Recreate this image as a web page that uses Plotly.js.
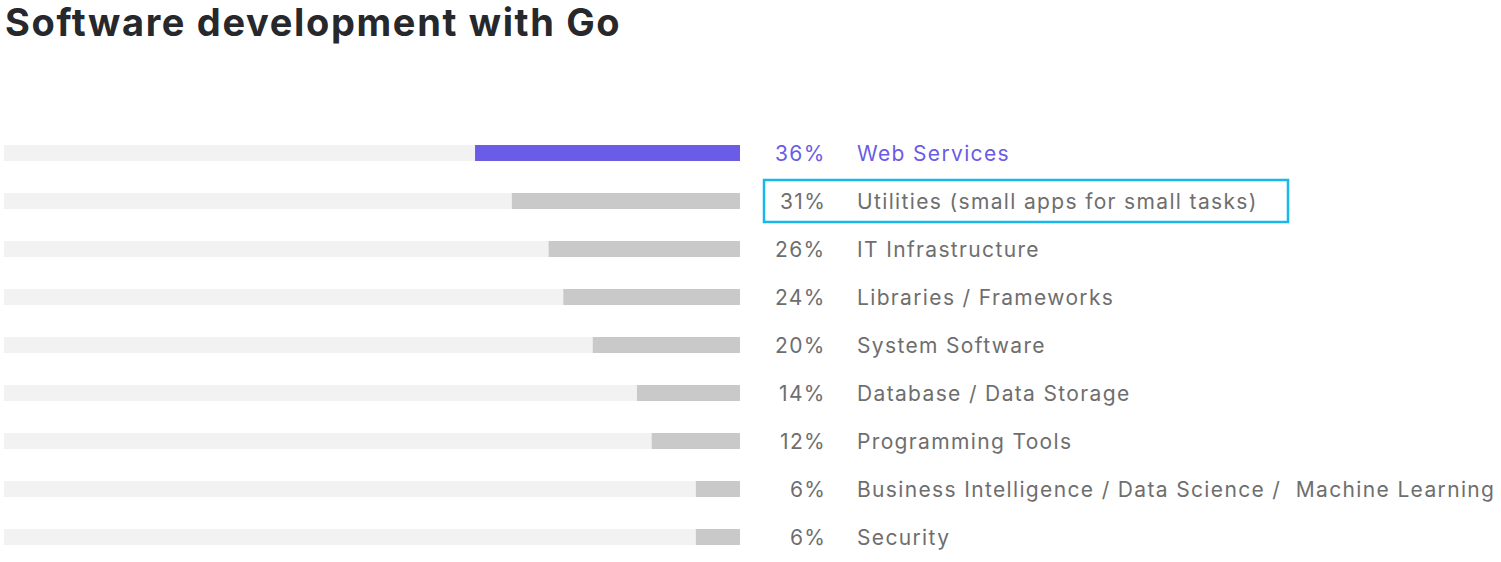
<!DOCTYPE html>
<html>
<head>
<meta charset="utf-8">
<script src="https://cdn.plot.ly/plotly-3.0.1.min.js"></script>
<style>html,body{margin:0;padding:0;background:#fff;}#chart{width:1501px;height:562px;}</style>
</head>
<body>
<div id="chart"></div>
<script>
const categories = [
  "Web Services",
  "Utilities (small apps for small tasks)",
  "IT Infrastructure",
  "Libraries / Frameworks",
  "System Software",
  "Database / Data Storage",
  "Programming Tools",
  "Business Intelligence / Data Science /  Machine Learning",
  "Security"
];
const values = [36, 31, 26, 24, 20, 14, 12, 6, 6];
const totals = [100, 100, 100, 100, 100, 100, 100, 100, 100];
const chartTitle = "Software development with Go";
const highlightIndex = 0;
const boxedIndex = 1;

const W = 1501;
const H = 562;
const TOP = 129, PLOT_H = 432;
const purple = "#6a5ce6";
const grey = "#c9c9c9";
const track = "#f2f2f2";
const textGrey = "#6e6e6e";

const colors = values.map((v, i) => i === highlightIndex ? purple : grey);

const traces = [
  {type: "bar", orientation: "h", y: categories, x: totals, marker: {color: track}, width: 0.333, hoverinfo: "skip"},
  {type: "bar", orientation: "h", y: categories, x: values, marker: {color: colors}, width: 0.333, hoverinfo: "skip"}
];

function spaced(t, ls) {
  return '<span style="letter-spacing:' + ls + 'px">' + t.replace(/  /g, "&nbsp; ") + '</span>';
}

const labelFont = "Inter, Roboto, sans-serif";
const annotations = [];
categories.forEach((c, i) => {
  const col = i === highlightIndex ? purple : textGrey;
  annotations.push({xref: "paper", yref: "y", x: 828 / W, y: c, xanchor: "right", yanchor: "middle",
    text: spaced(values[i] + "%", 1.35), showarrow: false, font: {family: labelFont, size: 21, color: col}});
  annotations.push({xref: "paper", yref: "y", x: 855 / W, y: c, xanchor: "left", yanchor: "middle",
    text: spaced(c, 1.35), showarrow: false, font: {family: labelFont, size: 21, color: col}});
});
annotations.push({xref: "paper", yref: "paper", x: 3 / W, y: 1 + (TOP - 22) / PLOT_H, xanchor: "left", yanchor: "middle",
  text: "<b>" + spaced(chartTitle, 1.65) + "</b>", showarrow: false,
  font: {family: "Inter, Roboto, sans-serif", size: 38, color: "#27282c"}});

const layout = {
  width: W, height: H,
  margin: {l: 0, r: 0, t: TOP, b: H - TOP - PLOT_H},
  paper_bgcolor: "#fff", plot_bgcolor: "#fff",
  barmode: "overlay",
  showlegend: false,
  xaxis: {domain: [4 / W, 740 / W], range: [100, 0], showgrid: false, zeroline: false, showticklabels: false, showline: false, fixedrange: true},
  yaxis: {type: "category", categoryorder: "array", categoryarray: categories, range: [8.5, -0.5],
    showgrid: false, zeroline: false, showticklabels: false, showline: false, fixedrange: true},
  annotations: annotations,
  shapes: [{type: "rect", xref: "paper", yref: "y", x0: 764 / W, x1: 1288 / W,
    y0: boxedIndex - 21 / 48, y1: boxedIndex + 21 / 48, line: {color: "#17b7ea", width: 2.5}, fillcolor: "rgba(0,0,0,0)"}]
};

Plotly.newPlot("chart", traces, layout, {displayModeBar: false, staticPlot: true});
</script>
</body>
</html>
